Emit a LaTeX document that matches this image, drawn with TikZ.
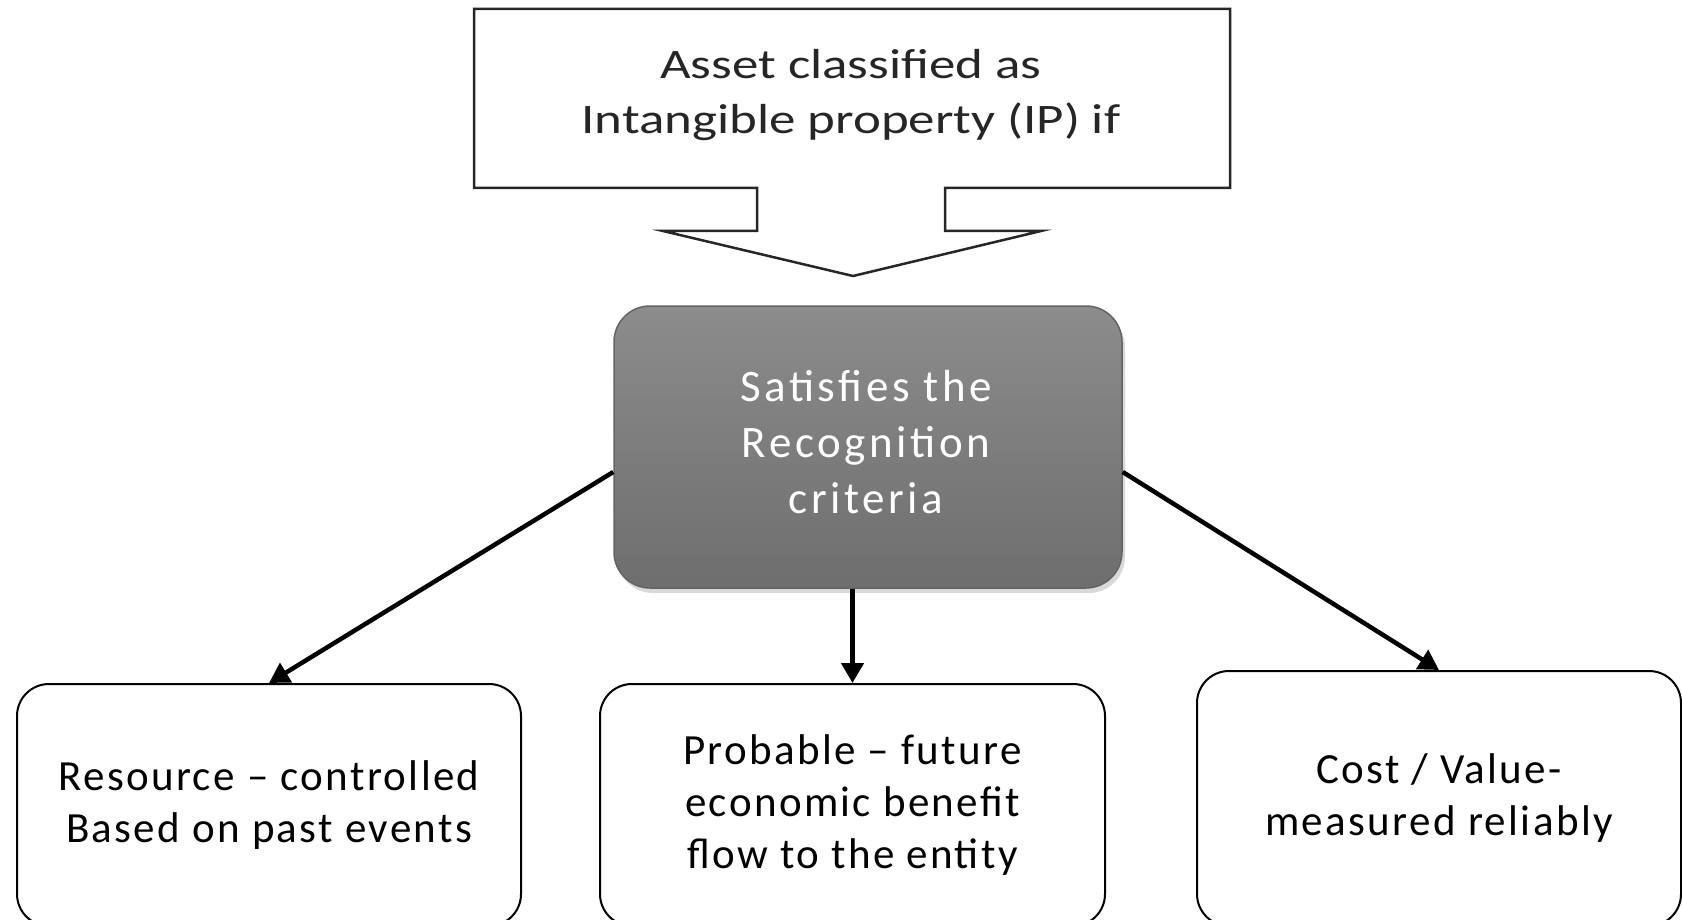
\documentclass[tikz,border=0pt]{standalone}
\usepackage{fontspec}
\setmainfont{Carlito}
\newfontfamily\spacedfont[LetterSpace=8]{Carlito}
\newfontfamily\boxfont[LetterSpace=5.5]{Carlito}
\usetikzlibrary{arrows.meta,shadows}

\definecolor{critfilltop}{RGB}{140,140,140}
\definecolor{critfillbot}{RGB}{110,110,110}
\definecolor{critedge}{RGB}{100,100,100}

\begin{document}
\begin{tikzpicture}[x=1pt,y=-1pt,
  box/.style={draw=black,line width=2pt,rounded corners=32pt,
    align=center,text=black,font=\boxfont\fontsize{43}{52}\selectfont},
  critbox/.style={draw=critedge,line width=1.5pt,rounded corners=36pt,
    top color=critfilltop,bottom color=critfillbot,
    drop shadow={shadow xshift=3pt,shadow yshift=-5pt,opacity=0.3}},
  link/.style={line width=4.5pt,-{Triangle[length=20pt,width=22pt]}}]
  \useasboundingbox (0,0) rectangle (1682,920);
  % down arrow callout on top
  \draw[line width=2.5pt,draw=black!85]
    (474,9) -- (1230,9) -- (1230,188) -- (945,188)
    -- (945,231) -- (1041,231) -- (853,276) -- (663,231)
    -- (757,231) -- (757,188) -- (474,188) -- cycle;
  \node[align=center,font=\fontsize{42}{55}\selectfont,text=black!85,xscale=1.26]
    (ask) at (851,95) {Asset classified as\\Intangible property (IP) if};
  % recognition criteria
  \node[critbox,minimum width=508pt,minimum height=282pt] (crit) at (868,447) {};
  \node[align=center,text=white,font=\spacedfont\fontsize{45}{56}\selectfont]
    (critlbl) at (866,442) {Satisfies the\\Recognition\\criteria};
  % three conditions
  \node[box,minimum width=504pt,minimum height=242pt] (res) at (269,805)
    {Resource \textendash{} controlled\\Based on past events};
  \node[box,minimum width=505pt,minimum height=242pt] (prob) at (852.5,805)
    {Probable \textendash{} future\\economic benefit\\flow to the entity};
  \node[box,minimum width=484pt,minimum height=255pt] (cost) at (1439,798.5)
    {Cost / Value-\\measured reliably};
  % links
  \draw[link] ([yshift=-25pt]crit.west) -- (res.north);
  \draw[link] (crit.south -| prob.north) -- (prob.north);
  \draw[link] ([yshift=-25pt]crit.east) -- (cost.north);
\end{tikzpicture}
\end{document}
